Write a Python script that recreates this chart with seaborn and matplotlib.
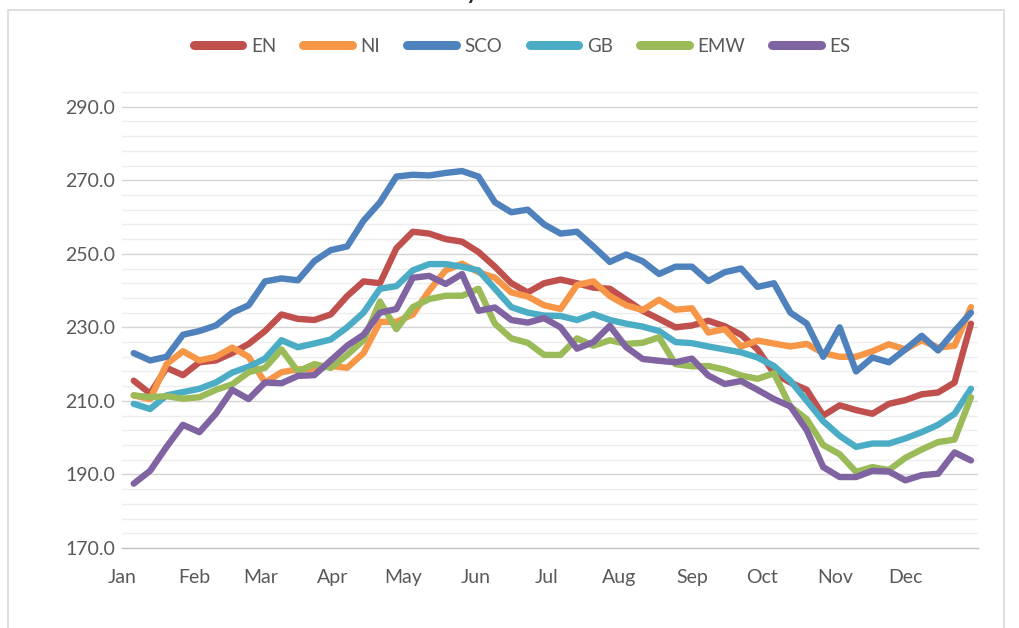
import numpy as np
import pandas as pd
import seaborn as sns
import matplotlib
matplotlib.use("Agg")
import matplotlib.pyplot as plt
from matplotlib.patches import Rectangle
from matplotlib.lines import Line2D

# ---------------- data ----------------
series_names = ["EN", "NI", "SCO", "GB", "EMW", "ES"]
month_labels = ["Jan", "Feb", "Mar", "Apr", "May", "Jun",
                "Jul", "Aug", "Sep", "Oct", "Nov", "Dec"]
month_start_day = [0, 31, 59, 90, 120, 151, 181, 212, 243, 273, 304, 334]
week_day = [5 + 7 * k for k in range(52)]

EN = [215.5, 212, 219, 217, 220.5, 221, 223, 225.5, 229, 233.5, 232.3, 232, 233.5,
      238.5, 242.5, 242, 251.5, 256, 255.5, 254, 253.3, 250.5, 246.5, 242, 239.5, 242,
      243, 242, 240.8, 240.5, 237.5, 234.5, 232.3, 230, 230.5, 231.8, 230.3, 228, 224,
      217.5, 215, 213, 206, 208.8, 207.5, 206.5, 209.2, 210.2, 211.8, 212.3, 215, 231]
NI = [211.5, 210.5, 220, 223.5, 221, 222, 224.5, 222, 215, 217.8, 218.6, 218.7, 219.5,
      219, 223, 231.5, 231.5, 233.5, 240, 245.5, 247.3, 245, 243.5, 239.5, 238.4, 236,
      235, 241.5, 242.5, 238.5, 236, 234.7, 237.5, 234.8, 235.2, 228.6, 229.5, 224.8,
      226.4, 225.6, 224.8, 225.5, 223, 222, 222, 223.5, 225.4, 224, 226.5, 224.5, 225, 235.5]
SCO = [223, 221, 222, 228, 229, 230.5, 234, 236, 242.5, 243.3, 242.8, 248, 251, 252,
       259, 264, 271, 271.5, 271.3, 272, 272.5, 271, 264, 261.3, 262, 258, 255.5, 256,
       252, 247.8, 249.8, 248, 244.5, 246.5, 246.5, 242.6, 245, 246, 241, 242, 234, 231,
       222, 230, 218, 221.8, 220.5, 224, 227.7, 223.7, 229, 234]
GB = [209.2, 207.8, 211.5, 212.4, 213.3, 215, 217.7, 219.3, 221.5, 226.5, 224.6, 225.6,
      226.7, 230, 234, 240.5, 241.2, 245.5, 247.2, 247.2, 246.5, 245.5, 240.5, 235.5, 234,
      233.2, 233.1, 232, 233.6, 232, 231, 230.2, 229, 226, 225.7, 224.8, 224, 223.2, 221.8,
      219.5, 215.5, 210, 204.5, 200.5, 197.5, 198.4, 198.4, 199.8, 201.5, 203.5, 206.5, 213.3]
EMW = [211.5, 211, 211.3, 210.6, 211, 213, 214.5, 217.8, 219, 224, 218, 220, 219, 222.5,
       226.5, 237, 229.5, 235.5, 237.7, 238.6, 238.6, 240.5, 231, 227, 225.8, 222.5, 222.5,
       227, 225, 226.5, 225.5, 225.8, 227.3, 220, 219.4, 219.5, 218.5, 216.9, 216, 217.5,
       208.5, 205, 198, 195.5, 190.7, 192, 191.2, 194.5, 196.8, 198.8, 199.5, 211]
ES = [187.5, 191, 197.5, 203.5, 201.5, 206.5, 213, 210.5, 215, 214.8, 216.8, 217, 221,
      225, 228, 234, 235, 243.5, 244, 241.8, 244.5, 234.5, 235.4, 232, 231.3, 232.5, 230,
      224.2, 226, 230.4, 224.6, 221.4, 220.9, 220.5, 221.5, 216.9, 214.6, 215.4, 213,
      210.5, 208.5, 202, 192, 189.3, 189.3, 191, 190.8, 188.4, 189.8, 190.2, 196, 193.8]

series_values = [EN, NI, SCO, GB, EMW, ES]
colors = ["#C0504D", "#F79646", "#4F81BD", "#4BACC6", "#9BBB59", "#8064A2"]

frames = []
for name, vals in zip(series_names, series_values):
    frames.append(pd.DataFrame({"day": week_day, "value": vals, "region": name}))
df = pd.concat(frames, ignore_index=True)

# ---------------- plot ----------------
sns.set_theme(style="white")
plt.rcParams["font.family"] = ["Lato", "DejaVu Sans"]

W, H = 1019, 628
fig = plt.figure(figsize=(W / 100, H / 100), dpi=100)
fig.patch.set_facecolor("white")

# outer chart border
fig.patches.append(Rectangle((8 / W, -0.05), (1004 - 8) / W, 1.05 - 10 / H,
                             transform=fig.transFigure, fill=False,
                             edgecolor="#D9D9D9", linewidth=1.2, zorder=0))

ax = fig.add_axes([122 / W, (H - 548) / H, (978 - 122) / W, (548 - 92) / H])

grey_text = "#595959"
# gridlines
for v in np.arange(170, 295, 4):
    if v == 170:
        continue
    col = "#D4D4D4" if (v - 170) % 20 == 0 else "#EDEDED"
    ax.axhline(v, color=col, linewidth=1.0, zorder=0)

sns.lineplot(data=df, x="day", y="value", hue="region", hue_order=series_names,
             palette=colors, linewidth=4.6, ax=ax, legend=False, sort=False,
             solid_capstyle="round", solid_joinstyle="round")

ax.set_xlim(0, 365)
ax.set_ylim(170, 294)
ax.set_yticks(np.arange(170, 291, 20))
ax.set_yticklabels([f"{v:.1f}" for v in np.arange(170, 291, 20)])
ax.set_xticks(month_start_day)
ax.set_xticklabels(month_labels)
ax.set_xlabel("")
ax.set_ylabel("")

for s in ["top", "right", "left"]:
    ax.spines[s].set_visible(False)
ax.spines["bottom"].set_color("#BFBFBF")
ax.spines["bottom"].set_linewidth(1.0)
ax.tick_params(axis="x", direction="out", length=7, width=1.0, color="#BFBFBF",
               labelsize=14, labelcolor=grey_text, pad=8)
ax.tick_params(axis="y", length=0, labelsize=14, labelcolor=grey_text, pad=5)

# legend
handles = [Line2D([0], [0], color=c, linewidth=6.5, solid_capstyle="round")
           for c in colors]
leg = fig.legend(handles, series_names, loc="center", ncol=6,
                 bbox_to_anchor=(522 / W, 1 - 46 / H), frameon=False,
                 fontsize=13.5, handlelength=2.6, handletextpad=0.45, columnspacing=1.45)
for t in leg.get_texts():
    t.set_color(grey_text)

# title (cut off at the top edge, only the descender is visible)
fig.text(473 / W, 1 + 2 / H, "y", fontsize=22, color="#262626",
         ha="center", va="baseline")

fig.savefig("out.png", dpi=100)
